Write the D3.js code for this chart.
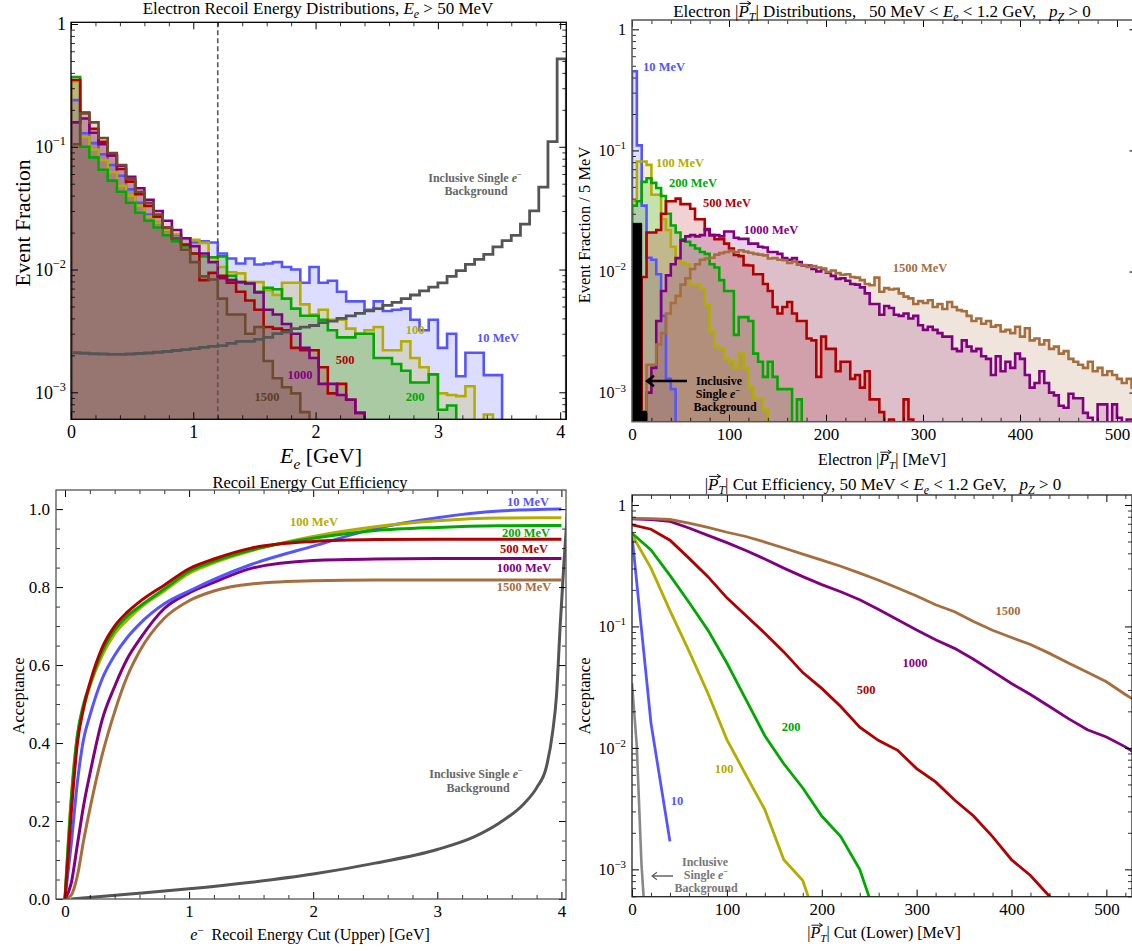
<!DOCTYPE html>
<html>
<head>
<meta charset="utf-8">
<script src="https://cdn.jsdelivr.net/npm/d3@7"></script>
<style>
  html, body { margin: 0; padding: 0; background: #fff; }
  svg { display: block; font-family: "Liberation Serif", "Times New Roman", serif; }
</style>
</head>
<body>
<svg id="chart" width="1132" height="951"></svg>
<script>
// ---------------- data ----------------
// Mass hypotheses and their colours
const massLabels = ["10 MeV", "100 MeV", "200 MeV", "500 MeV", "1000 MeV", "1500 MeV"];
const massShort  = ["10", "100", "200", "500", "1000", "1500"];

// Recoil energy histograms (event fraction per 0.075 GeV bin, first bin starts at 0)
const eBinWidth = 0.075;
const eRecoil10   = [0.24, 0.129, 0.107, 0.087, 0.071, 0.058, 0.045, 0.035, 0.028, 0.024, 0.021, 0.019, 0.018, 0.0166, 0.017, 0.0166, 0.0135, 0.0123, 0.0112, 0.0123, 0.011, 0.0112, 0.0115, 0.0105, 0.010, 0.0078, 0.0105, 0.0078, 0.0081, 0.0066, 0.0055, 0.0055, 0.0047, 0.0055, 0.0046, 0.0047, 0.0048, 0.0039, 0.0032, 0.0039, 0.0023, 0.003, 0.00135, 0.0021, 0.0021, 0.00138, 0.00138];
const eRecoil100  = [0.34, 0.12, 0.095, 0.078, 0.062, 0.048, 0.040, 0.033, 0.027, 0.024, 0.021, 0.0195, 0.018, 0.0175, 0.0165, 0.0125, 0.0105, 0.0095, 0.0093, 0.0079, 0.0079, 0.0068, 0.0062, 0.0078, 0.0078, 0.0052, 0.0043, 0.0047, 0.0039, 0.0039, 0.0033, 0.003, 0.0032, 0.0034, 0.0022, 0.0022, 0.0026, 0.0019, 0.0016, 0.0014, 0.00098, 0.00095, 0.00093, 0.00112, 0, 0.00066];
const eRecoil200  = [0.37, 0.10, 0.082, 0.065, 0.053, 0.043, 0.035, 0.029, 0.025, 0.022, 0.019, 0.017, 0.0155, 0.0135, 0.0128, 0.0126, 0.0128, 0.0089, 0.0079, 0.0077, 0.0066, 0.0071, 0.0069, 0.0058, 0.0048, 0.0042, 0.0042, 0.0039, 0.0032, 0.0028, 0.0028, 0.003, 0.003, 0.0019, 0.0019, 0.0017, 0.0015, 0.0012, 0.0012, 0.0014, 0.00072, 0.00078];
const eRecoil500  = [0.35, 0.19, 0.14, 0.11, 0.085, 0.066, 0.052, 0.041, 0.033, 0.027, 0.022, 0.018, 0.016, 0.0135, 0.0082, 0.0094, 0.0089, 0.0078, 0.0066, 0.0056, 0.0047, 0.0034, 0.0033, 0.0032, 0.0023, 0.0022, 0.0022, 0.0016, 0.00098, 0.00117, 0.00087, 0.00068];
const eRecoil1000 = [0.158, 0.17, 0.13, 0.105, 0.085, 0.07, 0.057, 0.046, 0.037, 0.03, 0.025, 0.021, 0.018, 0.0155, 0.0135, 0.0115, 0.0085, 0.0082, 0.0079, 0.0077, 0.0065, 0.0047, 0.0043, 0.0036, 0.003, 0.0023, 0.0019, 0.00117, 0.00117, 0.00095, 0.00087, 0.00068];
const eRecoil1500 = [0.105, 0.187, 0.158, 0.118, 0.089, 0.071, 0.055, 0.043, 0.035, 0.028, 0.022, 0.018, 0.0145, 0.0115, 0.0088, 0.0083, 0.0058, 0.0043, 0.0043, 0.003, 0.0034, 0.0018, 0.0013, 0.0011, 0.00098, 0.00069];
const eRecoilBkg  = [0.0021, 0.00208, 0.00206, 0.00205, 0.00204, 0.00204, 0.00205, 0.00207, 0.00209, 0.00212, 0.00215, 0.00219, 0.00223, 0.00227, 0.00232, 0.00237, 0.0024, 0.0025, 0.0026, 0.0026, 0.0027, 0.0028, 0.003, 0.0031, 0.0033, 0.0034, 0.0035, 0.0037, 0.0038, 0.004, 0.0042, 0.0044, 0.0046, 0.0048, 0.0051, 0.0054, 0.0058, 0.0062, 0.0067, 0.0072, 0.0078, 0.0088, 0.0098, 0.011, 0.0121, 0.0133, 0.0153, 0.0172, 0.019, 0.0234, 0.030, 0.047, 0.11, 0.52];
const eCutLine = 1.2;   // GeV, upper recoil energy cut

// Transverse momentum histograms (event fraction per 5 MeV bin, first bin starts at 0)
const ptBinWidth = 5;
const pt10   = [0.45, 0.11, 0.035, 0.013, 0.0125, 0.0095, 0.0043, 0.0013, 0.00107];
const pt100  = [0.038, 0.081, 0.081, 0.076, 0.043, 0.043, 0.027, 0.022, 0.016, 0.0125, 0.0118, 0.0115, 0.0078, 0.0078, 0.0072, 0.0053, 0.0032, 0.0024, 0.0023, 0.0019, 0.0018, 0.0016, 0.0021, 0.0016, 0.0011, 0.00089, 0.00089, 0.00072];
const pt200  = [0.035, 0.038, 0.055, 0.059, 0.054, 0.049, 0.042, 0.030, 0.024, 0.021, 0.0185, 0.0176, 0.0165, 0.0155, 0.0145, 0.014, 0.0115, 0.0108, 0.0085, 0.0069, 0.0069, 0.003, 0.0042, 0.0042, 0.0039, 0.0021, 0.0018, 0.00135, 0.0018, 0.00135, 0.00107, 0.00107, 0.00107, 0, 0.00088];
const pt500  = [0, 0.0006, 0.009, 0.021, 0.021, 0.022, 0.030, 0.038, 0.038, 0.040, 0.036, 0.036, 0.033, 0.027, 0.027, 0.022, 0.020, 0.0185, 0.0185, 0.017, 0.0155, 0.0137, 0.0134, 0.0113, 0.0112, 0.0095, 0.0095, 0.0079, 0.0069, 0.0051, 0.0045, 0.0051, 0.0056, 0.0045, 0.0039, 0.0039, 0.0028, 0.0027, 0.00135, 0.0029, 0.0023, 0.0023, 0.0015, 0.0018, 0.0018, 0.0013, 0.0014, 0.0011, 0.0015, 0.00088, 0.00088, 0.00069, 0, 0.0006, 0, 0, 0.00088, 0.0006];
const pt1000 = [0, 0, 0.0006, 0.001, 0.0016, 0.0039, 0.0069, 0.0093, 0.0115, 0.0129, 0.018, 0.0195, 0.02, 0.0195, 0.02, 0.0224, 0.02, 0.02, 0.0195, 0.0214, 0.0214, 0.019, 0.0186, 0.0186, 0.017, 0.017, 0.016, 0.0158, 0.0145, 0.0145, 0.014, 0.0129, 0.0125, 0.0129, 0.012, 0.0112, 0.0112, 0.0105, 0.01, 0.0105, 0.0098, 0.0092, 0.0087, 0.0088, 0.0084, 0.0079, 0.0078, 0.0074, 0.0066, 0.0054, 0.0054, 0.0044, 0.0052, 0.005, 0.0044, 0.0043, 0.0045, 0.0041, 0.0043, 0.0036, 0.0033, 0.0035, 0.0033, 0.0031, 0.0029, 0.0029, 0.0023, 0.0022, 0.0027, 0.0024, 0.0022, 0.0023, 0.002, 0.0019, 0.0014, 0.002, 0.0015, 0.0018, 0.0016, 0.0021, 0.0019, 0.0014, 0.0011, 0.0012, 0.0015, 0.0012, 0.001, 0.00095, 0.00078, 0.00075, 0.00098, 0.0009, 0.0009, 0.00068, 0.00062, 0.0005, 0.0008, 0.0008, 0, 0.0008, 0.00062, 0, 0.0006, 0.0006];
const pt1500 = [0, 0, 0.0007, 0.0017, 0.0017, 0.0025, 0.0031, 0.0045, 0.0055, 0.0063, 0.0078, 0.0088, 0.0105, 0.0115, 0.0125, 0.0128, 0.013, 0.0138, 0.0142, 0.0145, 0.0148, 0.0145, 0.015, 0.0146, 0.0143, 0.014, 0.0138, 0.0136, 0.0128, 0.0129, 0.0125, 0.0124, 0.0118, 0.0121, 0.0114, 0.0113, 0.0109, 0.0111, 0.0108, 0.0106, 0.0099, 0.0102, 0.0097, 0.0094, 0.0095, 0.009, 0.0089, 0.0085, 0.0079, 0.0077, 0.0089, 0.0068, 0.0073, 0.0071, 0.0072, 0.0066, 0.0062, 0.006, 0.0054, 0.0057, 0.0055, 0.0058, 0.0051, 0.0054, 0.0049, 0.0056, 0.0051, 0.0048, 0.0047, 0.0043, 0.0039, 0.0041, 0.0037, 0.0039, 0.0035, 0.0036, 0.0032, 0.0033, 0.0031, 0.0035, 0.0029, 0.0034, 0.0027, 0.0028, 0.0025, 0.0027, 0.0023, 0.0024, 0.0021, 0.0022, 0.0019, 0.0018, 0.0017, 0.0016, 0.0018, 0.0015, 0.0016, 0.0014, 0.0015, 0.0014, 0.0013, 0.0012, 0.0013, 0.0011];
const ptBkg  = [0.025, 0.025, 0.0007];

// Acceptance vs. upper recoil-energy cut (GeV)
const cutEnergy = [0, 0.05, 0.1, 0.15, 0.2, 0.3, 0.4, 0.5, 0.6, 0.8, 1.0, 1.2, 1.5, 2.0, 2.5, 3.0, 3.5, 4.0];
const effE10   = [0, 0.14, 0.30, 0.41, 0.47, 0.565, 0.625, 0.67, 0.705, 0.757, 0.79, 0.82, 0.858, 0.905, 0.95, 0.978, 0.995, 1.0];
const effE100  = [0, 0.26, 0.42, 0.49, 0.545, 0.625, 0.68, 0.715, 0.745, 0.79, 0.835, 0.862, 0.893, 0.93, 0.955, 0.97, 0.977, 0.978];
const effE200  = [0, 0.25, 0.42, 0.50, 0.55, 0.635, 0.69, 0.725, 0.75, 0.795, 0.84, 0.866, 0.895, 0.925, 0.945, 0.953, 0.957, 0.958];
const effE500  = [0, 0.22, 0.40, 0.49, 0.553, 0.645, 0.70, 0.735, 0.762, 0.805, 0.847, 0.872, 0.90, 0.917, 0.922, 0.923, 0.923, 0.923];
const effE1000 = [0, 0.04, 0.14, 0.24, 0.32, 0.46, 0.545, 0.615, 0.665, 0.745, 0.785, 0.812, 0.848, 0.868, 0.872, 0.873, 0.873, 0.873];
const effE1500 = [0, 0.01, 0.06, 0.15, 0.23, 0.37, 0.48, 0.57, 0.635, 0.72, 0.765, 0.79, 0.808, 0.816, 0.818, 0.818, 0.818, 0.818];
const cutEnergyBkg = [0.05, 0.5, 1.0, 1.5, 2.0, 2.5, 3.0, 3.3, 3.5, 3.7, 3.8, 3.88, 3.93, 3.96, 3.99, 4.02, 4.05];
const effEBkg      = [0, 0.012, 0.026, 0.043, 0.064, 0.092, 0.127, 0.16, 0.195, 0.245, 0.285, 0.34, 0.43, 0.52, 0.70, 0.86, 1.0];

// Acceptance vs. lower |pT| cut (MeV)
const cutPt = [0, 20, 40, 60, 80, 100, 120, 140, 160, 180, 200, 220, 240, 260, 280, 300, 320, 340, 360, 380, 400, 420, 440, 460, 480, 500, 520, 540];
const effPt10   = [0.56, 0.016, 0.0017];
const effPt100  = [0.568, 0.302, 0.135, 0.063, 0.0282, 0.0117, 0.006, 0.0031, 0.0012, 0.00081, 0.00025];
const effPt200  = [0.585, 0.427, 0.263, 0.158, 0.0933, 0.05, 0.0251, 0.0126, 0.0074, 0.00468, 0.00275, 0.00186, 0.001, 0.00035];
const effPt500  = [0.685, 0.631, 0.513, 0.365, 0.257, 0.172, 0.123, 0.088, 0.0617, 0.0417, 0.0309, 0.0219, 0.0148, 0.0115, 0.00955, 0.00676, 0.00525, 0.00372, 0.00275, 0.00186, 0.0012, 0.00089, 0.0006, 0.0004];
const effPt1000 = [0.767, 0.759, 0.733, 0.646, 0.562, 0.49, 0.422, 0.359, 0.302, 0.257, 0.221, 0.193, 0.166, 0.138, 0.1135, 0.0933, 0.0776, 0.066, 0.0537, 0.0427, 0.0339, 0.0275, 0.0219, 0.0174, 0.0141, 0.0123, 0.0102, 0.0081];
const effPt1500 = [0.776, 0.773, 0.759, 0.708, 0.653, 0.596, 0.55, 0.495, 0.442, 0.394, 0.351, 0.313, 0.275, 0.24, 0.207, 0.178, 0.151, 0.132, 0.11, 0.093, 0.081, 0.071, 0.06, 0.05, 0.042, 0.035, 0.0275, 0.022];
const cutPtBkg = [0, 5, 10, 15];
const effPtBkg = [0.034, 0.0105, 0.0011, 0.0001];

// ---------------- styling ----------------
const colors      = ["#5555ff", "#b3ad00", "#00a800", "#b00000", "#800080", "#a56e3c"];
const colorsDark  = ["#5555ff", "#b3ad00", "#00a800", "#b00000", "#800080", "#6e4b2d"];
const bkgGrey = "#555555";

const svg = d3.select("#chart");
svg.append("rect").attr("width", 1132).attr("height", 951).attr("fill", "#fff");
const defs = svg.append("defs");

// ---------------- helpers ----------------
// Text built from segments; {i} italic, {sub}/{sup} shifted, {vec} gets an arrow drawn above it
function richText(parent, x, y, parts, o) {
  const size = o.size;
  const color = o.color || "#000";
  const t = parent.append("text")
    .attr("x", x).attr("y", y)
    .attr("text-anchor", o.anchor || "middle")
    .attr("font-size", size)
    .attr("fill", color);
  if (o.bold) t.attr("font-weight", "bold");
  if (o.rotate) t.attr("transform", `rotate(${o.rotate},${x},${y})`);
  let shift = 0;
  const vecSpans = [];
  parts.forEach(p => {
    const seg = typeof p === "string" ? { t: p } : p;
    const s = t.append("tspan").text(seg.t);
    let target = 0;
    if (seg.sub) target = size * 0.25;
    if (seg.sup) target = -size * 0.38;
    if (target - shift) s.attr("dy", target - shift);
    shift = target;
    if (seg.sub || seg.sup) s.attr("font-size", size * 0.7);
    if (seg.i) s.attr("font-style", "italic");
    if (seg.vec) vecSpans.push(s);
  });
  vecSpans.forEach(s => {
    const b = s.node().getBBox();
    const ya = y - size * 0.8;
    const xL = b.x + size * 0.12, xR = b.x + b.width + size * 0.12;
    const h = size * 0.13;
    parent.append("path")
      .attr("d", `M${xL},${ya}H${xR}M${xR - h * 1.6},${ya - h}L${xR},${ya}L${xR - h * 1.6},${ya + h}`)
      .attr("fill", "none").attr("stroke", color).attr("stroke-width", size * 0.055);
  });
  return t;
}

function logTicks(domain) {
  const lo = Math.log10(domain[0]), hi = Math.log10(domain[1]);
  const major = [], minor = [];
  for (let k = Math.floor(lo); k <= Math.ceil(hi); k++) {
    const v = Math.pow(10, k);
    if (v >= domain[0] && v <= domain[1] * 1.0001) major.push(v);
    for (let m = 2; m <= 9; m++) {
      const w = m * v;
      if (w >= domain[0] && w <= domain[1]) minor.push(w);
    }
  }
  return { major, minor };
}

function linTicks(domain, step, minorStep) {
  const major = [], minor = [];
  const eps = 1e-9;
  for (let v = Math.ceil(domain[0] / step - eps) * step; v <= domain[1] + eps; v += step) major.push(+v.toFixed(6));
  for (let v = Math.ceil(domain[0] / minorStep - eps) * minorStep; v <= domain[1] + eps; v += minorStep) {
    const r = +v.toFixed(6);
    if (!major.some(m => Math.abs(m - r) < 1e-6)) minor.push(r);
  }
  return { major, minor };
}

function powerLabels(axisG, size) {
  axisG.selectAll(".tick text").each(function (d) {
    const e = Math.round(Math.log10(d));
    const t = d3.select(this);
    t.text(null);
    if (e === 0) { t.text("1"); return; }
    t.append("tspan").text("10");
    t.append("tspan").attr("dy", -size * 0.42).attr("font-size", size * 0.68).text("\u2212" + Math.abs(e));
  });
}

function makeClip(P, id) {
  const [x0, x1] = P.x.range(), [yb, yt] = P.y.range();
  defs.append("clipPath").attr("id", id).append("rect")
    .attr("x", x0).attr("y", yt).attr("width", x1 - x0).attr("height", yb - yt);
  return svg.append("g").attr("clip-path", `url(#${id})`);
}

function drawFrame(P, o) {
  const [x0, x1] = P.x.range(), [yb, yt] = P.y.range();
  const g = svg.append("g").attr("color", o.color || "#000");
  const xt = o.xTicks, yt2 = o.yTicks;
  const sides = [
    { ax: d3.axisBottom(P.x), tr: `translate(0,${yb})`, ticks: xt, labels: true, fmt: o.xFmt, pad: o.xPad, size: o.xSize },
    { ax: d3.axisTop(P.x), tr: `translate(0,${yt})`, ticks: xt, labels: false },
    { ax: d3.axisLeft(P.y), tr: `translate(${x0},0)`, ticks: yt2, labels: true, fmt: o.yFmt, pad: o.yPad, size: o.ySize, log: o.yLog },
    { ax: d3.axisRight(P.y), tr: `translate(${x1},0)`, ticks: yt2, labels: false }
  ];
  sides.forEach(s => {
    const gm = g.append("g").attr("transform", s.tr)
      .call(s.ax.tickValues(s.ticks.major).tickSizeInner(-7).tickSizeOuter(0)
        .tickPadding(s.labels ? s.pad : 0)
        .tickFormat(s.labels ? (s.fmt || (d => d)) : () => ""));
    gm.attr("font-family", null).attr("font-size", s.size || 16);
    gm.select(".domain").remove();
    gm.selectAll(".tick line").attr("stroke-width", 1);
    if (s.log) powerLabels(gm, s.size);
    const gn = g.append("g").attr("transform", s.tr)
      .call(s.ax.tickValues(s.ticks.minor).tickSizeInner(-4).tickSizeOuter(0).tickPadding(0).tickFormat(() => ""));
    gn.select(".domain").remove();
    gn.selectAll(".tick line").attr("stroke-width", 0.8);
  });
  g.append("rect").attr("x", x0).attr("y", yt).attr("width", x1 - x0).attr("height", yb - yt)
    .attr("fill", "none").attr("stroke", o.frameColor || "#000").attr("stroke-width", o.frameWidth || 1.2);
}

function histPoints(values, width) {
  const pts = [[0, 0]];
  values.forEach((v, i) => { pts.push([i * width, v], [(i + 1) * width, v]); });
  pts.push([values.length * width, 0]);
  return pts;
}

function drawHist(P, fillLayer, lineLayer, values, width, color, fillOpacity, strokeW) {
  const below = P.y.range()[0] + 6;
  const yy = v => (v > 0 ? P.y(v) : below);
  const pts = histPoints(values, width);
  if (fillLayer) {
    fillLayer.append("path")
      .attr("d", d3.area().x(d => P.x(d[0])).y0(below).y1(d => yy(d[1]))(pts))
      .attr("fill", color).attr("fill-opacity", fillOpacity);
  }
  lineLayer.append("path")
    .attr("d", d3.line().x(d => P.x(d[0])).y(d => yy(d[1]))(pts))
    .attr("fill", "none").attr("stroke", color).attr("stroke-width", strokeW)
    .attr("stroke-linejoin", "miter");
}

function label(parent, x, y, parts, color, size) {
  return richText(parent, x, y, parts, { size: size || 12.5, bold: true, color });
}

function arrowLine(x1, x2, y, color, width, head) {
  svg.append("path")
    .attr("d", `M${x1},${y}H${x2}M${x2 + head},${y - head * 0.75}L${x2},${y}L${x2 + head},${y + head * 0.75}`)
    .attr("fill", "none").attr("stroke", color).attr("stroke-width", width)
    .attr("stroke-linejoin", "miter");
}

const Ee = [{ t: "E", i: 1 }, { t: "e", i: 1, sub: 1 }];
const PT = [{ t: "P", i: 1, vec: 1 }, { t: "T", i: 1, sub: 1 }];
const pZ = [{ t: "p", i: 1 }, { t: "Z", i: 1, sub: 1 }];
const eMinus = [{ t: "e", i: 1 }, { t: "\u2212", sup: 1 }];
const NB = "\u00A0";

// ---------------- panel 1: recoil energy distributions ----------------
const P1 = {
  x: d3.scaleLinear().domain([0, 4.05]).range([71, 566.3]),
  y: d3.scaleLog().domain([Math.pow(10, -3.22), Math.pow(10, 0.014)]).range([419.3, 22.3])
};
{
  const plot = makeClip(P1, "clip1");
  const fills = plot.append("g"), lines = plot.append("g");
  const series = [eRecoil10, eRecoil100, eRecoil200, eRecoil500, eRecoil1000, eRecoil1500];
  series.forEach((s, i) => drawHist(P1, fills, lines, s, eBinWidth, colorsDark[i], 0.2, 2.6));
  drawHist(P1, null, lines, eRecoilBkg, eBinWidth, bkgGrey, 0, 2.8);
  plot.append("line")
    .attr("x1", P1.x(eCutLine)).attr("x2", P1.x(eCutLine))
    .attr("y1", P1.y.range()[0]).attr("y2", P1.y.range()[1])
    .attr("stroke", "#555").attr("stroke-width", 1.6).attr("stroke-dasharray", "5,3");

  drawFrame(P1, {
    xTicks: linTicks([0, 4.05], 1, 0.2), yTicks: logTicks(P1.y.domain()),
    xPad: 6, yPad: 5, xSize: 18, ySize: 18, yLog: true, frameColor: "#000", frameWidth: 1.3
  });

  richText(svg, 318, 14, ["Electron Recoil Energy Distributions, ", ...Ee, " > 50 MeV"], { size: 17 });
  richText(svg, 321, 463, [...Ee, " [GeV]"], { size: 22 });
  richText(svg, 30, 223, ["Event Fraction"], { size: 21.5, rotate: -90 });

  label(svg, 475, 182, ["Inclusive Single ", ...eMinus], "#666", 12);
  label(svg, 476, 195, ["Background"], "#666", 12);
  label(svg, 498, 342, [massLabels[0]], colorsDark[0]);
  label(svg, 415, 334, [massShort[1]], colorsDark[1]);
  label(svg, 345, 364, [massShort[3]], colorsDark[3]);
  label(svg, 300, 379, [massShort[4]], colorsDark[4]);
  label(svg, 415, 401, [massShort[2]], colorsDark[2]);
  label(svg, 267, 401, [massShort[5]], "#5a3f28");
}

// ---------------- panel 2: transverse momentum distributions ----------------
const P2 = {
  x: d3.scaleLinear().domain([0, 520]).range([632, 1136.4]),
  y: d3.scaleLog().domain([Math.pow(10, -3.24), Math.pow(10, 0.077)]).range([421.7, 20])
};
{
  const plot = makeClip(P2, "clip2");
  const fills = plot.append("g"), lines = plot.append("g");
  const series = [pt10, pt100, pt200, pt500, pt1000, pt1500];
  series.forEach((s, i) => drawHist(P2, fills, lines, s, ptBinWidth, colors[i], 0.18, 2.6));
  drawHist(P2, plot, plot, ptBkg, ptBinWidth, "#000", 1, 1);

  drawFrame(P2, {
    xTicks: linTicks([0, 520], 100, 20), yTicks: logTicks(P2.y.domain()),
    xPad: 6, yPad: 6, xSize: 17, ySize: 16, yLog: true, frameColor: "#555", frameWidth: 1.5
  });

  richText(svg, 882, 17, ["Electron |", ...PT, "| Distributions," + NB + NB + NB + "50 MeV < ", ...Ee, " < 1.2 GeV," + NB + NB + NB, ...pZ, " > 0"], { size: 17 });
  richText(svg, 882, 465, ["Electron |", ...PT, "| [MeV]"], { size: 16 });
  richText(svg, 590, 225, ["Event Fraction / 5 MeV"], { size: 16.5, rotate: -90 });

  label(svg, 664, 71, [massLabels[0]], colors[0]);
  label(svg, 680, 167, [massLabels[1]], colors[1]);
  label(svg, 693, 187, [massLabels[2]], colors[2]);
  label(svg, 727, 207, [massLabels[3]], colors[3]);
  label(svg, 771, 234, [massLabels[4]], colors[4]);
  label(svg, 920, 272, [massLabels[5]], colors[5]);
  label(svg, 719, 385, ["Inclusive"], "#000", 12);
  label(svg, 718, 398, ["Single ", ...eMinus], "#000", 12);
  label(svg, 725, 411, ["Background"], "#000", 12);
  arrowLine(687, 647, 381, "#000", 2.4, 7);
}

// ---------------- panel 3: recoil energy cut efficiency ----------------
const P3 = {
  x: d3.scaleLinear().domain([-0.0725, 4.037]).range([56, 566]),
  y: d3.scaleLinear().domain([0, 1.049]).range([899, 490])
};
{
  const plot = makeClip(P3, "clip3");
  const curves = [effE10, effE100, effE200, effE500, effE1000, effE1500];
  const line = d3.line().x(d => P3.x(d[0])).y(d => P3.y(d[1])).curve(d3.curveMonotoneX);
  const order = [5, 4, 0, 1, 2, 3];
  order.forEach(i => {
    plot.append("path").attr("d", line(cutEnergy.map((e, k) => [e, curves[i][k]])))
      .attr("fill", "none").attr("stroke", colors[i]).attr("stroke-width", 3);
  });
  plot.append("path").attr("d", line(cutEnergyBkg.map((e, k) => [e, effEBkg[k]])))
    .attr("fill", "none").attr("stroke", bkgGrey).attr("stroke-width", 3);

  drawFrame(P3, {
    xTicks: linTicks([-0.0725, 4.037], 1, 0.2), yTicks: linTicks([0, 1.049], 0.2, 0.05),
    xPad: 6, yPad: 6, xSize: 17, ySize: 17, xFmt: d3.format("d"), yFmt: d3.format(".1f"),
    frameColor: "#555", frameWidth: 1.3
  });

  richText(svg, 310, 488, ["Recoil Energy Cut Efficiency"], { size: 16.5 });
  richText(svg, 310, 940, [...eMinus, NB + " Recoil Energy Cut (Upper) [GeV]"], { size: 16 });
  richText(svg, 24, 696, ["Acceptance"], { size: 16.5, rotate: -90 });

  label(svg, 528, 506, [massLabels[0]], colors[0]);
  label(svg, 314, 526, [massLabels[1]], colors[1]);
  label(svg, 526, 537, [massLabels[2]], colors[2]);
  label(svg, 524, 553, [massLabels[3]], colors[3]);
  label(svg, 524, 572, [massLabels[4]], colors[4]);
  label(svg, 524, 591, [massLabels[5]], colors[5]);
  label(svg, 476, 778, ["Inclusive Single ", ...eMinus], "#666", 12);
  label(svg, 478, 792, ["Background"], "#666", 12);
}

// ---------------- panel 4: |pT| cut efficiency ----------------
const P4 = {
  x: d3.scaleLinear().domain([0, 527]).range([632, 1132]),
  y: d3.scaleLog().domain([Math.pow(10, -3.225), Math.pow(10, 0.082)]).range([896.7, 495])
};
{
  const plot = makeClip(P4, "clip4");
  const below = P4.y.range()[0] + 40;
  const line = d3.line().x(d => P4.x(d[0])).y(d => Math.min(P4.y(d[1]), below));
  const curves = [effPt10, effPt100, effPt200, effPt500, effPt1000, effPt1500];
  curves.forEach((c, i) => {
    plot.append("path").attr("d", line(c.map((v, k) => [cutPt[k], v])))
      .attr("fill", "none").attr("stroke", colors[i]).attr("stroke-width", 2.8);
  });
  plot.append("path").attr("d", line(effPtBkg.map((v, k) => [cutPtBkg[k], v])))
    .attr("fill", "none").attr("stroke", "#888").attr("stroke-width", 2.6);

  drawFrame(P4, {
    xTicks: linTicks([0, 527], 100, 20), yTicks: logTicks(P4.y.domain()),
    xPad: 6, yPad: 6, xSize: 17, ySize: 16, yLog: true, frameColor: "#222", frameWidth: 1.3
  });

  richText(svg, 883, 490, ["|", ...PT, "| Cut Efficiency, 50 MeV < ", ...Ee, " < 1.2 GeV," + NB + NB + NB, ...pZ, " > 0"], { size: 17 });
  richText(svg, 884, 938, ["|", ...PT, "| Cut (Lower) [MeV]"], { size: 16 });
  richText(svg, 590, 696, ["Acceptance"], { size: 16.5, rotate: -90 });

  label(svg, 1008, 615, [massShort[5]], colors[5]);
  label(svg, 915, 667, [massShort[4]], colors[4]);
  label(svg, 866, 694, [massShort[3]], colors[3]);
  label(svg, 791, 731, [massShort[2]], colors[2]);
  label(svg, 724, 773, [massShort[1]], colors[1]);
  label(svg, 677, 805, [massShort[0]], colors[0]);
  label(svg, 705, 866, ["Inclusive"], "#777", 12);
  label(svg, 706, 879, ["Single ", ...eMinus], "#777", 12);
  label(svg, 706, 892, ["Background"], "#777", 12);
  arrowLine(673, 652, 876, "#666", 1.3, 5);
}
</script>
</body>
</html>
